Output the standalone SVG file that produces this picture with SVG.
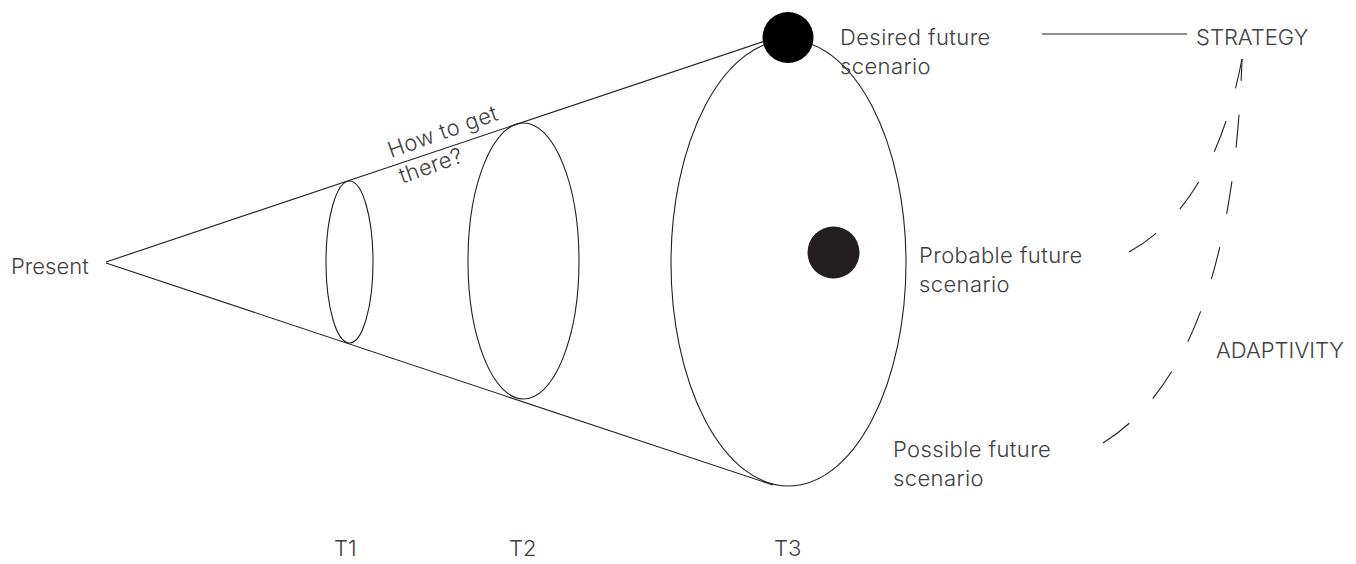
<svg xmlns="http://www.w3.org/2000/svg" width="1356" height="564" viewBox="0 0 1356 564">
<style>
.ln{fill:none;stroke:#231f20;stroke-width:1.1}
.ds{fill:none;stroke:#231f20;stroke-width:1.1;stroke-dasharray:33 34}
.tx{font-family:Inter,"Noto Sans","Liberation Sans",sans-serif;font-weight:300;font-size:22px;fill:#404040}
.ls{letter-spacing:0.4px}
</style>
<rect width="1356" height="564" fill="#fff"/>
<g id="connectors">
<line class="ln" x1="106" y1="262" x2="765" y2="41"/>
<line class="ln" x1="106" y1="263" x2="773" y2="485"/>
<line class="ln" x1="1042" y1="34" x2="1187" y2="34"/>
<path class="ds" d="M1129,252 Q1214,205 1242,59"/>
<path class="ds" d="M1103,443 Q1232,363 1242,59"/>
</g>
<g id="t1"><ellipse class="ln" cx="349.5" cy="262" rx="23.5" ry="81"/></g>
<g id="t2"><ellipse class="ln" cx="523.5" cy="261" rx="55.5" ry="138"/></g>
<g id="t3"><ellipse class="ln" cx="788.5" cy="263" rx="117.5" ry="223"/></g>
<g id="desired"><circle cx="788" cy="37.5" r="25.5" fill="#000"/>
<text class="tx ls" x="840" y="45">Desired future<tspan x="840" y="74">scenario</tspan></text></g>
<g id="probable"><circle cx="833.5" cy="252.5" r="26" fill="#231f20"/>
<text class="tx ls" x="919" y="263">Probable future<tspan x="919" y="292">scenario</tspan></text></g>
<g id="possible"><text class="tx ls" x="893" y="457">Possible future<tspan x="893" y="486">scenario</tspan></text></g>
<g id="present"><text class="tx" x="11" y="274">Present</text></g>
<g id="howto"><text class="tx ls" transform="translate(391,158) rotate(-19.5)">How to get<tspan x="2" y="28">there?</tspan></text></g>
<g id="strategy"><text class="tx" x="1196" y="45">STRATEGY</text></g>
<g id="adaptivity"><text class="tx" x="1216" y="358">ADAPTIVITY</text></g>
<g id="labels">
<text class="tx" x="334" y="556">T1</text>
<text class="tx" x="509" y="556">T2</text>
<text class="tx" x="774" y="556">T3</text>
</g>
</svg>
